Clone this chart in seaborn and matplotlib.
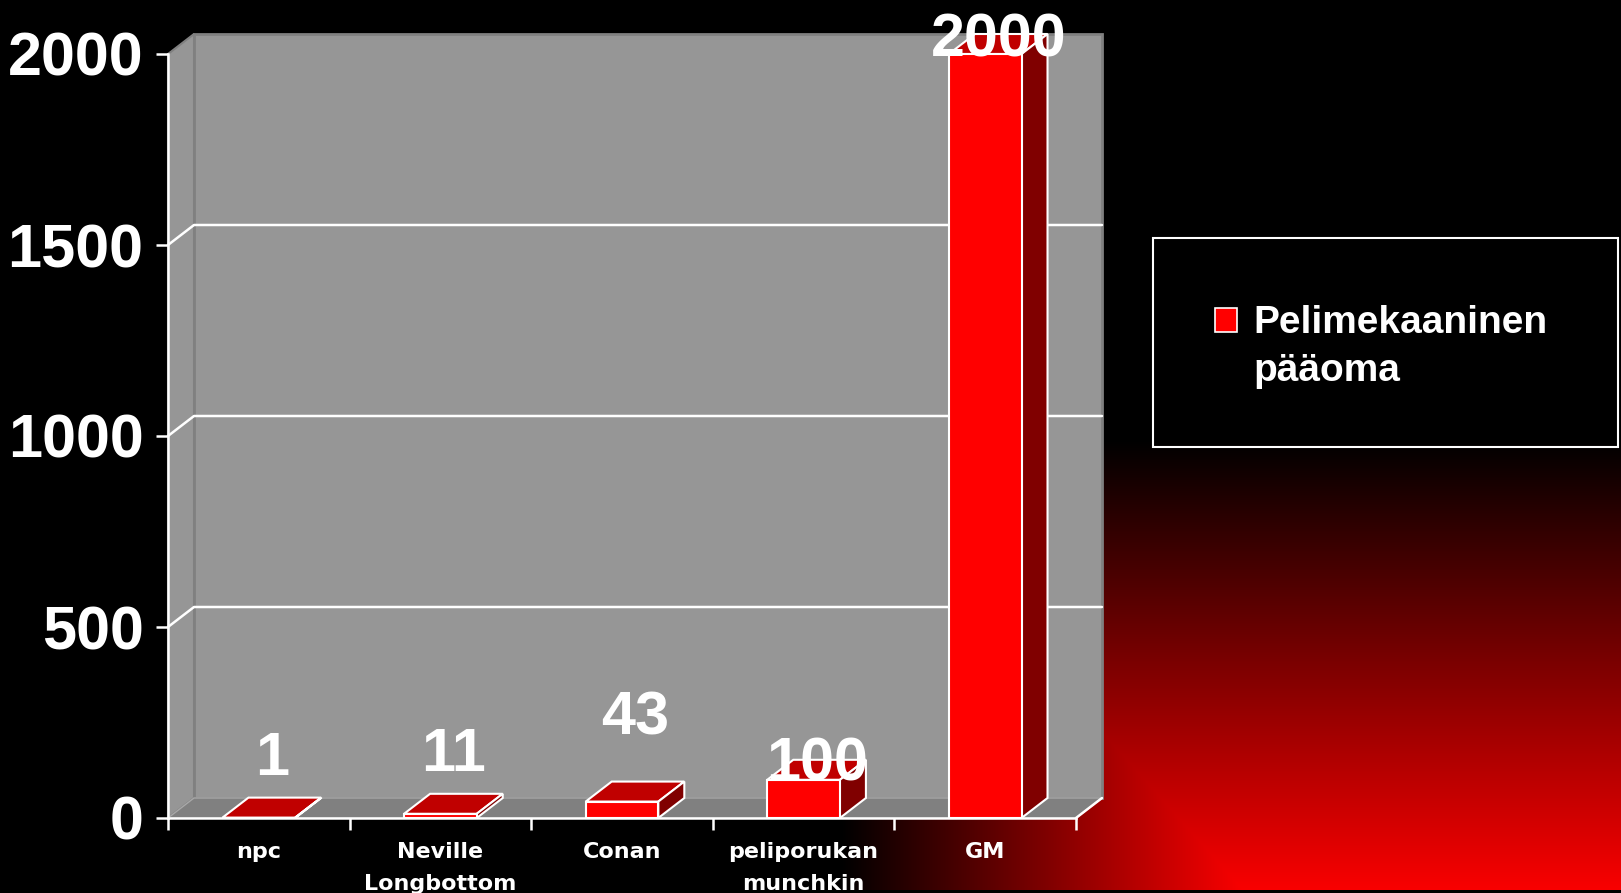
import matplotlib as mpl
import matplotlib.pyplot as plt
import numpy as np
import pandas as pd
import seaborn as sns
from matplotlib.patches import Polygon, Rectangle

mpl.use('Agg')

# chart data
categories = ['npc', 'Neville\nLongbottom', 'Conan', 'peliporukan\nmunchkin', 'GM']
values = [1, 11, 43, 100, 2000]
series_name = 'Pelimekaaninen\npääoma'
y_ticks = [0, 500, 1000, 1500, 2000]

# value labels sit at odd heights in the original, offsets in points from the bar's back top edge
label_offsets = [16, 16.5, 34, -15, -16.5]

# general settings
sns.set_theme(style='ticks', rc={'axes.facecolor': 'none', 'figure.facecolor': 'black'})
plt.rcParams['font.family'] = ['Liberation Sans', 'DejaVu Sans']

W, H = 1621, 893
fig = plt.figure(figsize=(W / 100, H / 100), dpi=100, facecolor='black')

# background: black fading to red in the lower right corner
yy, xx = np.mgrid[0:H, 0:W]
u = np.clip((xx - 841) / 411, 0, 1)
v = np.clip((yy - 440) / 460, 0, 1)
img = np.zeros((H, W, 3))
img[..., 0] = np.minimum(u, v)
img[890:, :, :] = 0
bg = fig.add_axes([0, 0, 1, 1], zorder=-10)
bg.imshow(img, aspect='auto', interpolation='nearest')
bg.axis('off')

# front plane of the chart, in pixels
left, top, right, bottom = 168, 54, 1076, 818
ax = fig.add_axes([left / W, 1 - bottom / H, (right - left) / W, (bottom - top) / H])
ax.set_facecolor('none')

df = pd.DataFrame({'category': categories, 'value': values})
sns.barplot(data=df, x='category', y='value', color='#ff0000', saturation=1, width=0.40,
            edgecolor='white', linewidth=1.5, ax=ax)
bars = list(ax.patches)

x0, x1 = -0.5, len(categories) - 0.5
ymax = y_ticks[-1]
ax.set_xlim(x0, x1)
ax.set_ylim(0, ymax)

# depth of the fake 3d, 26 px right and 20 px up
dx = 26 / (right - left) * (x1 - x0)
dy = 20 / (bottom - top) * ymax

# walls and floor
ax.add_patch(Polygon([(x0, 0), (x0 + dx, dy), (x0 + dx, ymax + dy), (x0, ymax)],
                     closed=True, fc='#969696', ec='#808080', lw=1.5, zorder=0.5, clip_on=False))
ax.add_patch(Rectangle((x0 + dx, dy), x1 - x0, ymax, fc='#969696', ec='#808080', lw=2,
                       zorder=0.5, clip_on=False))
ax.add_patch(Polygon([(x0, 0), (x1, 0), (x1 + dx, dy), (x0 + dx, dy)],
                     closed=True, fc='#808080', ec='#a8a8a8', lw=1, zorder=0.6, clip_on=False))
ax.plot([x1, x1 + dx], [0, dy], color='white', lw=1.8, zorder=0.7, clip_on=False)
for t in y_ticks[1:-1]:
    ax.plot([x0, x0 + dx, x1 + dx], [t, t + dy, t + dy], color='white', lw=1.8,
            zorder=0.7, clip_on=False)

# top and side faces of the bars
for bar in bars:
    bx, bw, bh = bar.get_x(), bar.get_width(), bar.get_height()
    ax.add_patch(Polygon([(bx, bh), (bx + bw, bh), (bx + bw + dx, bh + dy), (bx + dx, bh + dy)],
                         closed=True, fc='#c00000', ec='white', lw=1.5, zorder=2, clip_on=False))
    ax.add_patch(Polygon([(bx + bw, 0), (bx + bw + dx, dy), (bx + bw + dx, bh + dy), (bx + bw, bh)],
                         closed=True, fc='#800000', ec='white', lw=1.5, zorder=2, clip_on=False))
    bar.set_zorder(3)
    bar.set_clip_on(False)

# value labels
for bar, val, off in zip(bars, values, label_offsets):
    ax.annotate('{}'.format(val), (bar.get_x() + bar.get_width() / 2 + dx / 2, bar.get_height() + dy),
                xytext=(0, off), textcoords='offset points', ha='center', va='baseline',
                color='white', fontsize=44, fontweight='bold', zorder=6, annotation_clip=False)

# axes, ticks, labels
ax.set_xlabel('')
ax.set_ylabel('')
ax.set_yticks(y_ticks)
ax.set_yticklabels([str(t) for t in y_ticks])
ax.set_xticks(range(len(categories)))
ax.set_xticklabels(categories)
ax.set_xticks(np.arange(len(categories) + 1) - 0.5, minor=True)
ax.tick_params(axis='x', which='major', length=0, pad=17, labelsize=16, labelcolor='white')
ax.tick_params(axis='x', which='minor', length=8.6, width=1.8, color='white')
ax.tick_params(axis='y', length=8.6, width=1.8, color='white', pad=9, labelsize=44, labelcolor='white')
for lab in ax.get_xticklabels():
    lab.set_fontfamily('DejaVu Sans')
    lab.set_fontweight('bold')
    lab.set_linespacing(1.8)
for lab in ax.get_yticklabels():
    lab.set_fontweight('bold')
sns.despine(ax=ax)
for side in ['left', 'bottom']:
    ax.spines[side].set_color('white')
    ax.spines[side].set_linewidth(1.8)
ax.grid(False)

# legend box, drawn by hand so the marker sits on the first line
fig.add_artist(Rectangle((1153 / W, 1 - 447 / H), 465 / W, 209 / H, transform=fig.transFigure,
                         fill=False, ec='white', lw=1.5))
fig.add_artist(Rectangle((1215 / W, 1 - 332 / H), 22 / W, 24 / H, transform=fig.transFigure,
                         fc='#ff0000', ec='white', lw=1.2))
for i, line in enumerate(series_name.split('\n')):
    fig.text(1253 / W, 1 - (333 + 48 * i) / H, line, color='white', fontsize=28,
             fontweight='bold', va='baseline', ha='left')

fig.savefig('out.png', dpi=100, facecolor='black')
plt.close()
